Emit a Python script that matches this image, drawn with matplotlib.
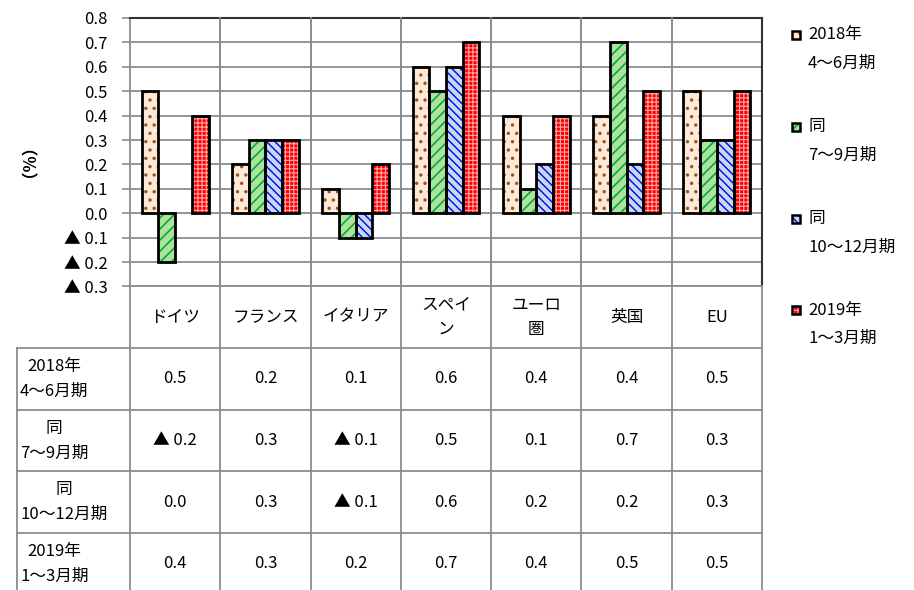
import numpy as np
import matplotlib
matplotlib.use("Agg")
import matplotlib.pyplot as plt
from matplotlib.patches import Rectangle
from matplotlib.ticker import FuncFormatter

plt.rcParams['font.family'] = ['Noto Sans CJK JP', 'DejaVu Sans']
plt.rcParams['hatch.linewidth'] = 1.0

# 国・地域別の実質GDP成長率（前期比、%）
countries = ['ドイツ', 'フランス', 'イタリア', 'スペイ\nン', 'ユーロ\n圏', '英国', 'EU']
periods = ['2018年\n4～6月期', '同\n7～9月期', '同\n10～12月期', '2019年\n1～3月期']
q2_2018 = [0.5, 0.2, 0.1, 0.6, 0.4, 0.4, 0.5]
q3_2018 = [-0.2, 0.3, -0.1, 0.5, 0.1, 0.7, 0.3]
q4_2018 = [0.0, 0.3, -0.1, 0.6, 0.2, 0.2, 0.3]
q1_2019 = [0.4, 0.3, 0.2, 0.7, 0.4, 0.5, 0.5]
series = [q2_2018, q3_2018, q4_2018, q1_2019]

# 塗りつぶしとハッチ（色, ハッチ色, 模様, ハッチ線幅）
styles = [
    ('#fde9d9', '#a0520f', '..', 1.2),
    ('#aee39a', '#00a84a', '///', 1.2),
    ('#c5d9f1', '#0000ee', '\\\\\\\\', 1.0),
    ('#ff0000', '#ffa8a8', '++++', 0.8),
]

GRID = '#8c8c8c'
FS = 12


def fmt(v):
    if v < -1e-9:
        return '▲ %.1f' % abs(v)
    if abs(v) < 1e-9:
        return '0.0'
    return '%.1f' % v


def hatched(patch, lw):
    if hasattr(patch, 'set_hatch_linewidth'):
        patch.set_hatch_linewidth(lw)


W, H = 914, 590
fig = plt.figure(figsize=(W / 100, H / 100), dpi=100)

# 画素座標での配置
x0, x1 = 130, 762
y_top, y_bot = 18, 286.5
ax = fig.add_axes([x0 / W, 1 - y_bot / H, (x1 - x0) / W, (y_bot - y_top) / H])

n = len(countries)
bw = 0.185
xs = np.arange(n) + 0.5
for j, vals in enumerate(series):
    fc, hc, hatch, hlw = styles[j]
    pos = xs + (j - 1.5) * bw
    with plt.rc_context({'hatch.linewidth': hlw}):
        fill = ax.bar(pos, vals, bw, color=fc, edgecolor=hc, hatch=hatch,
                      linewidth=0, zorder=3)
    for r in fill:
        hatched(r, hlw)
    outl = ax.bar(pos, vals, bw, facecolor='none', edgecolor='black',
                  linewidth=2.0, zorder=4)
    for r, v in zip(outl, vals):
        if v == 0:
            r.set_visible(False)

ax.set_xlim(0, n)
ax.set_ylim(-0.3, 0.8)
ax.set_yticks(np.round(np.arange(-0.3, 0.81, 0.1), 1))
ax.yaxis.set_major_formatter(FuncFormatter(lambda v, p: fmt(v)))
ax.set_xticks([])
ax.grid(axis='y', color=GRID, linewidth=1.3, zorder=0)
for b in range(1, n):
    ax.axvline(b, color=GRID, linewidth=1.3, zorder=0)
ax.tick_params(axis='y', direction='out', length=6, width=1.2, color=GRID,
               labelsize=FS, pad=10)
for s in ['left', 'bottom']:
    ax.spines[s].set_color(GRID)
    ax.spines[s].set_linewidth(1.3)
for s in ['top', 'right']:
    ax.spines[s].set_color('#333333')
    ax.spines[s].set_linewidth(1.5)
ax.set_ylabel('（%）', fontsize=FS, fontweight='bold')
ax.yaxis.set_label_coords(-0.158, 0.5)

# 下の表と凡例は画素座標の重ね軸に描く
ov = fig.add_axes([0, 0, 1, 1], facecolor='none')
ov.set_xlim(0, W)
ov.set_ylim(H, 0)
ov.axis('off')

col_w = (x1 - x0) / n
col_edges = [x0 + col_w * i for i in range(n + 1)]
lab_left = 17
head_bot = 348
row_h = 61.7
row_edges = [head_bot + row_h * i for i in range(len(periods) + 1)]

for i, xe in enumerate(col_edges):
    top = y_bot if i in (0, n) else y_top
    ov.plot([xe, xe], [top, H + 5], color=GRID, lw=1.3, zorder=1)
ov.plot([lab_left, lab_left], [head_bot, H + 5], color=GRID, lw=1.3)
for ye in row_edges:
    ov.plot([lab_left, x1], [ye, ye], color=GRID, lw=1.3)

for i, name in enumerate(countries):
    ov.text((col_edges[i] + col_edges[i + 1]) / 2, (y_bot + head_bot) / 2, name,
            ha='center', va='center', fontsize=FS, linespacing=1.6)

for r, (label, vals) in enumerate(zip(periods, series)):
    yc = (row_edges[r] + row_edges[r + 1]) / 2
    ov.text(lab_left + 3, yc, label, ha='left', va='center', fontsize=FS,
            multialignment='center', linespacing=1.6)
    for i, v in enumerate(vals):
        ov.text((col_edges[i] + col_edges[i + 1]) / 2, yc, fmt(v),
                ha='center', va='center', fontsize=FS)

# 凡例
leg_y = [35, 127, 219, 310]
for j, label in enumerate(periods):
    fc, hc, hatch, hlw = styles[j]
    first, second = label.split('\n')
    with plt.rc_context({'hatch.linewidth': hlw}):
        sw = Rectangle((792, leg_y[j] - 4), 8, 8, facecolor=fc, edgecolor=hc,
                       hatch=hatch, linewidth=0)
    hatched(sw, hlw)
    ov.add_patch(sw)
    ov.add_patch(Rectangle((792, leg_y[j] - 4), 8, 8, facecolor='none',
                           edgecolor='black', linewidth=1.8))
    ov.text(808, leg_y[j], first, ha='left', va='center', fontsize=FS)
    ov.text(808, leg_y[j] + 28, second, ha='left', va='center', fontsize=FS)

fig.savefig('out.png', dpi=100)
